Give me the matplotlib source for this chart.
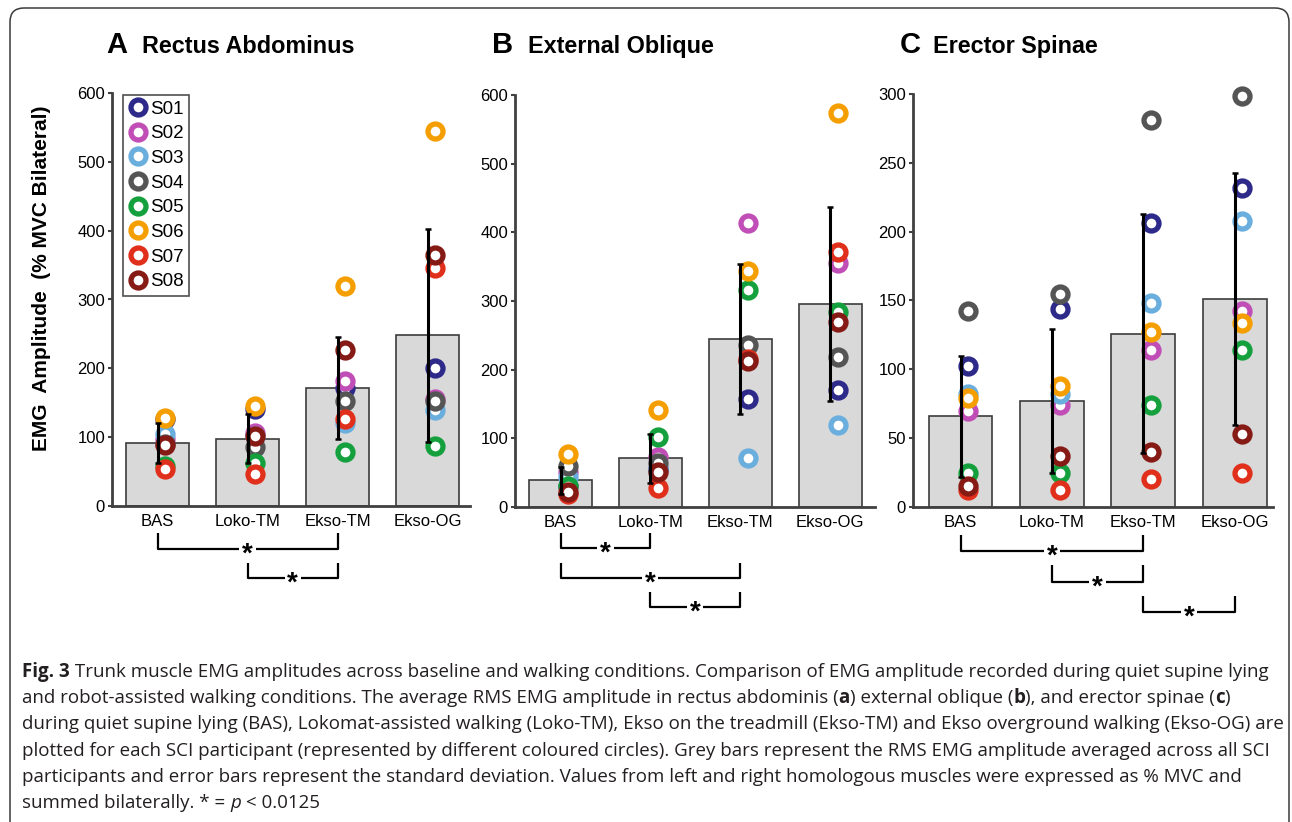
import matplotlib
matplotlib.use("Agg")
import matplotlib.pyplot as plt
from matplotlib.lines import Line2D
from matplotlib.patches import FancyBboxPatch
import matplotlib.transforms as mtransforms

plt.rcParams['font.family'] = ['Liberation Sans', 'DejaVu Sans']

# ---------------- data ----------------
conditions = ["BAS", "Loko-TM", "Ekso-TM", "Ekso-OG"]
subjects = ["S01", "S02", "S03", "S04", "S05", "S06", "S07", "S08"]
subject_colors = ["#2e2a8a", "#c04eb6", "#6aaede", "#555555",
                  "#14a03c", "#f59e00", "#e0301c", "#861a14"]

panel_letters = ["A", "B", "C"]
panel_titles = ["Rectus Abdominus", "External Oblique", "Erector Spinae"]

# Rectus abdominus
ra_mean = [91, 98, 171, 248]
ra_sd = [29, 35, 74, 155]
ra_points = [
    [126, 141, 172, 200],   # S01
    [97, 106, 181, 155],    # S02
    [104, 102, 121, 139],   # S03
    [90, 85, 152, 152],     # S04
    [58, 63, 79, 87],       # S05
    [128, 146, 320, 545],   # S06
    [54, 46, 126, 346],     # S07
    [88, 101, 226, 365],    # S08
]

# External oblique
eo_mean = [39, 71, 245, 296]
eo_sd = [19.5, 36, 109.5, 141]
eo_points = [
    [30, 55, 158, 170],     # S01
    [51, 73, 413, 355],     # S02
    [44, 55, 71, 120],      # S03
    [60, 64, 236, 219],     # S04
    [31, 102, 316, 284],    # S05
    [77, 141, 344, 574],    # S06
    [19, 27, 216, 372],     # S07
    [22, 51, 212, 270],     # S08
]

# Erector spinae
es_mean = [66, 77, 126, 151]
es_sd = [44, 52.5, 87, 91.5]
es_points = [
    [102.5, 144, 206, 232],   # S01
    [70, 74, 114, 142.5],     # S02
    [82, 82, 148, 208],       # S03
    [142.5, 155, 281, 298.5], # S04
    [25, 25, 74, 114],        # S05
    [79, 88, 127, 134],       # S06
    [12, 12, 20, 25],         # S07
    [15, 37, 40, 53],         # S08
]

ra_ticks = [0, 100, 200, 300, 400, 500, 600]
eo_ticks = [0, 100, 200, 300, 400, 500, 600]
es_ticks = [0, 50, 100, 150, 200, 250, 300]

ra_sig = [(0, 2), (1, 2)]
eo_sig = [(0, 1), (0, 2), (1, 2)]
es_sig = [(0, 2), (1, 2), (2, 3)]

ylabel_text = "EMG  Amplitude  (% MVC Bilateral)"

caption_lines = [
    [("Fig. 3", "bold", "normal"),
     (" Trunk muscle EMG amplitudes across baseline and walking conditions. Comparison of EMG amplitude recorded during quiet supine lying", "normal", "normal")],
    [("and robot-assisted walking conditions. The average RMS EMG amplitude in rectus abdominis (", "normal", "normal"),
     ("a", "bold", "normal"), (") external oblique (", "normal", "normal"),
     ("b", "bold", "normal"), ("), and erector spinae (", "normal", "normal"),
     ("c", "bold", "normal"), (")", "normal", "normal")],
    [("during quiet supine lying (BAS), Lokomat-assisted walking (Loko-TM), Ekso on the treadmill (Ekso-TM) and Ekso overground walking (Ekso-OG) are", "normal", "normal")],
    [("plotted for each SCI participant (represented by different coloured circles). Grey bars represent the RMS EMG amplitude averaged across all SCI", "normal", "normal")],
    [("participants and error bars represent the standard deviation. Values from left and right homologous muscles were expressed as % MVC and", "normal", "normal")],
    [("summed bilaterally. * = ", "normal", "normal"), ("p", "normal", "italic"),
     (" < 0.0125", "normal", "normal")],
]

# ---------------- figure ----------------
W, H = 1292, 822
fig = plt.figure(figsize=(W / 100, H / 100), dpi=100)
fig.patch.set_facecolor("white")

# axes rectangles in pixels: left, top, right, bottom
axes_px = [(112, 93, 470, 506), (515, 95, 875, 507), (913, 94, 1273, 507)]
xlims = [(0.494, 4.47), (0.493, 4.5), (0.48, 4.42)]

panel_means = [ra_mean, eo_mean, es_mean]
panel_sds = [ra_sd, eo_sd, es_sd]
panel_points = [ra_points, eo_points, es_points]
panel_ticks = [ra_ticks, eo_ticks, es_ticks]
panel_sigs = [ra_sig, eo_sig, es_sig]
title_px = [(106, 142), (492, 528), (900, 933)]
sig_rows_px = [[(533, 549), (563, 578)],
               [(533, 548), (563, 578), (592, 607)],
               [(535, 551), (565, 582), (596, 612)]]

MS, MEW = 10.8, 3.8

axes = []
for i in range(3):
    l, t, r, b = axes_px[i]
    ax = fig.add_axes([l / W, 1 - b / H, (r - l) / W, (b - t) / H])
    axes.append(ax)
    x = list(range(1, len(conditions) + 1))
    ax.bar(x, panel_means[i], width=0.7, color="#d9d9d9",
           edgecolor="#3c3c3c", linewidth=1.2, zorder=1)
    for s, vals in enumerate(panel_points[i]):
        ax.plot([xx + 0.085 for xx in x], vals, ls="none", marker="o",
                ms=MS, mew=MEW, mfc="white", mec=subject_colors[s],
                zorder=3 + s * 0.01, clip_on=False)
    ax.errorbar(x, panel_means[i], yerr=panel_sds[i], fmt="none",
                ecolor="black", elinewidth=2.2, capsize=2.3, capthick=1.8,
                zorder=5)
    ticks = panel_ticks[i]
    ax.set_ylim(ticks[0], ticks[-1])
    ax.set_yticks(ticks)
    ax.set_xlim(*xlims[i])
    ax.set_xticks(x)
    ax.set_xticklabels(conditions)
    for sp in ["top", "right"]:
        ax.spines[sp].set_visible(False)
    for sp in ["left", "bottom"]:
        ax.spines[sp].set_linewidth(2.0)
        ax.spines[sp].set_color("#404040")
    ax.tick_params(axis="y", direction="out", length=3, width=1.5,
                   color="#404040", labelsize=12, pad=2)
    ax.tick_params(axis="x", length=0, labelsize=12, pad=6)
    ax.set_facecolor("none")

    # titles
    lx, tx = title_px[i]
    fig.text(lx / W, 1 - 53 / H, panel_letters[i], fontsize=21,
             fontweight="bold", ha="left", va="baseline")
    fig.text(tx / W, 1 - 53 / H, panel_titles[i], fontsize=16.8,
             fontweight="bold", ha="left", va="baseline")

    # significance brackets
    trans = mtransforms.blended_transform_factory(ax.transData, ax.transAxes)
    hpx = b - t
    for (c1, c2), (ytop, ybot) in zip(panel_sigs[i], sig_rows_px[i]):
        x1, x2 = c1 + 1, c2 + 1
        yt = (b - ytop) / hpx
        yb = (b - ybot) / hpx
        xm = (x1 + x2) / 2
        gap = 0.09
        kw = dict(color="black", lw=1.6, transform=trans, clip_on=False,
                  solid_capstyle="butt")
        ax.add_line(Line2D([x1, x1, xm - gap], [yt, yb, yb], **kw))
        ax.add_line(Line2D([xm + gap, x2, x2], [yb, yb, yt], **kw))
        ax.text(xm, yb - 0.014, "*", transform=trans, ha="center",
                va="center", fontsize=20, fontweight="bold", clip_on=False)

# y label
fig.text(42 / W, 1 - 278 / H, ylabel_text, rotation=90, fontsize=15,
         fontweight="bold", ha="center", va="center")

# legend
handles = [Line2D([], [], ls="none", marker="o", ms=MS, mew=MEW,
                  mfc="white", mec=c) for c in subject_colors]
leg = axes[0].legend(handles, subjects, loc="upper left",
                     bbox_to_anchor=((123 - 112) / 358, (506 - 95) / 413),
                     borderaxespad=0, frameon=True, fancybox=False,
                     fontsize=13.5, handlelength=0.95, handletextpad=0.2,
                     labelspacing=0.4, borderpad=0.3)
leg.get_frame().set_edgecolor("#222222")
leg.get_frame().set_linewidth(1.2)
leg.set_zorder(10)

# frame around figure
frame = FancyBboxPatch((10, -20), 1279, 814 + 20,
                       boxstyle="round,pad=0,rounding_size=14",
                       transform=mtransforms.IdentityTransform(),
                       facecolor="none", edgecolor="#3a3a3a", linewidth=1.1)
fig.add_artist(frame)

# caption with rich segments
renderer = fig.canvas.get_renderer()
cap_family = ["Open Sans", "DejaVu Sans"]


def seg_width(s, size, weight, style):
    t1 = fig.text(0, 0, "|" + s + "|", fontsize=size, fontweight=weight,
                  fontstyle=style, family=cap_family)
    t2 = fig.text(0, 0, "||", fontsize=size, fontweight=weight,
                  fontstyle=style, family=cap_family)
    w = t1.get_window_extent(renderer).width - t2.get_window_extent(renderer).width
    t1.remove()
    t2.remove()
    return w


base = 12.0
w1 = sum(seg_width(s, base, wt, st) for s, wt, st in caption_lines[0])
cap_size = base * (1264 - 22) / w1
line_y = [672, 698, 724, 751, 777, 803]
for segs, yy in zip(caption_lines, line_y):
    xx = 22.0
    for s, wt, st in segs:
        fig.text(xx / W, 1 - yy / H, s, fontsize=cap_size, fontweight=wt,
                 fontstyle=st, family=cap_family, ha="left", va="center",
                 color="#231f20")
        xx += seg_width(s, cap_size, wt, st)

fig.savefig("out.png", dpi=100, facecolor="white")
